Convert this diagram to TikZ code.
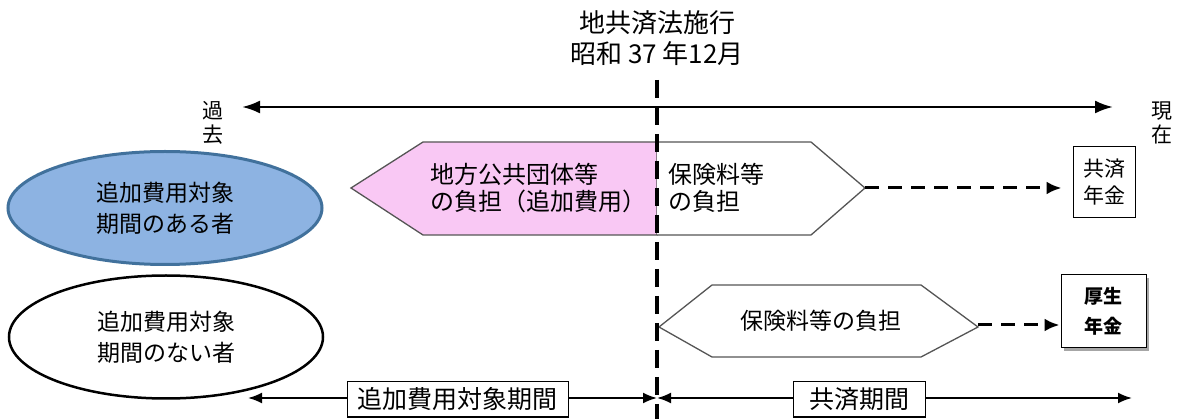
\documentclass[tikz,border=0pt]{standalone}
\usepackage{fontspec}
\setmainfont{Noto Sans CJK JP}
\usetikzlibrary{arrows.meta,shapes.geometric}
\definecolor{pinkfill}{HTML}{F9C8F4}
\definecolor{bluefill}{HTML}{8DB3E2}
\definecolor{blueedge}{HTML}{41719C}
\definecolor{shapeedge}{HTML}{555555}
\tikzset{
  txt/.style={inner sep=0pt, align=left, font=\fontsize{24}{27}\selectfont},
  ovalbox/.style={ellipse, minimum width=314pt, inner sep=0pt, align=center, font=\fontsize{23}{31}\selectfont},
  lbl/.style={draw, line width=1pt, fill=white, minimum height=35pt, inner xsep=0pt, font=\fontsize{25}{27}\selectfont},
  bigtip/.style={{Latex[length=18pt,width=13pt]}-{Latex[length=18pt,width=13pt]}, line width=2.5pt},
  smalltip/.style={line width=2pt, -{Latex[length=14pt,width=11pt]}},
  dasharrow/.style={-{Latex[length=15pt,width=13pt]}, line width=3pt, dash pattern=on 14pt off 9pt},
  hexline/.style={draw=shapeedge, line width=1.3pt},
}
\begin{document}
\begin{tikzpicture}[x=1pt,y=-1pt]
\useasboundingbox (0,0) rectangle (1178,419);

% title and time axis
\node[align=center, font=\fontsize{26}{31}\selectfont] (title) at (657,38) {地共済法施行\\昭和 37 年12月};
\node[align=center, inner sep=0pt, font=\fontsize{21}{24}\selectfont] (past) at (213,123) {過\\去};
\node[align=center, inner sep=0pt, font=\fontsize{21}{24}\selectfont] (now) at (1162,123) {現\\在};
\coordinate (pastend) at (242,107);
\coordinate (nowend) at (1113,107);
\draw[bigtip] (pastend) -- (nowend);

% ellipses
\node[ovalbox, draw=blueedge, line width=3pt, fill=bluefill, minimum height=113pt] (withp) at (165,208) {追加費用対象\\期間のある者};
\node[ovalbox, draw=black, line width=2.5pt, fill=white, minimum height=123pt] (withoutp) at (166,337) {追加費用対象\\期間のない者};

% upper arrow shapes
\filldraw[hexline, fill=pinkfill] (351,188) -- (423,142) -- (657,142) -- (657,235) -- (423,235) -- cycle;
\draw[hexline, fill=white] (657,142) -- (811,142) -- (865,188) -- (811,235) -- (657,235);
\coordinate (hexAtip) at (865,188);
\node[txt, anchor=west] (pinktext) at (430,188) {地方公共団体等\\の負担（追加費用）};
\node[txt, anchor=west] (hokenA) at (668,188) {保険料等\\の負担};

\node[draw, line width=1pt, minimum width=62pt, minimum height=71pt, inner sep=0pt, align=center, font=\fontsize{21}{27}\selectfont] (kyosai) at (1104,182) {共済\\年金};
\draw[dasharrow, shorten >=11pt] (hexAtip) -- (kyosai.west |- hexAtip);

% lower arrow shape
\draw[hexline, fill=white] (659,327) -- (712,285) -- (921,285) -- (978,327) -- (921,357) -- (712,357) -- cycle;
\coordinate (hexBtip) at (978,325);
\node[inner sep=0pt, font=\fontsize{23}{27}\selectfont] (hokenB) at (821,321) {保険料等の負担};

\fill[gray!70] (1064,278) rectangle (1149,351);
\node[draw, line width=1pt, fill=white, minimum width=85pt, minimum height=73pt, inner sep=0pt, align=center, font=\bfseries\fontsize{19}{30}\selectfont] (kosei) at (1103.5,311.5) {厚生\\年金};
\draw[dasharrow, shorten >=1pt] (hexBtip) -- (kosei.west |- hexBtip);

% vertical dashed line
\coordinate (vtop) at (657,80);
\coordinate (vbot) at (657,419);
\draw[line width=3.5pt, dash pattern=on 18pt off 9pt] (vtop) -- (vbot);

% bottom period arrows
\coordinate (lend) at (248,398);
\coordinate (mid) at (657,398);
\coordinate (rend) at (1132,398);
\node[lbl, minimum width=221pt] (addp) at (457.5,399.5) {追加費用対象期間};
\node[lbl, minimum width=132pt] (kyop) at (859,399.5) {共済期間};
\draw[smalltip] (addp.west |- lend) -- (lend);
\draw[smalltip] (addp.east |- mid) -- (mid);
\draw[smalltip] (kyop.west |- mid) -- (mid);
\draw[smalltip] (kyop.east |- rend) -- (rend);
\end{tikzpicture}
\end{document}
